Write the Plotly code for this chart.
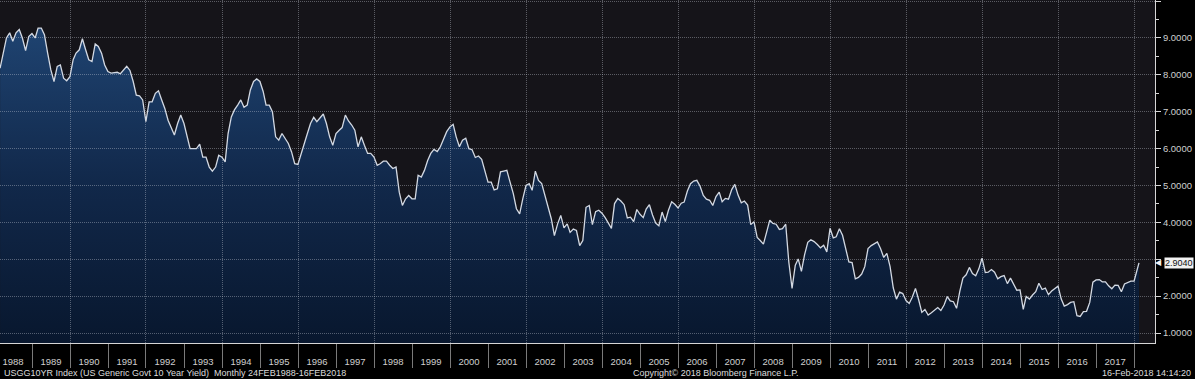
import pandas as pd
import plotly.graph_objects as go

# ---- data: month-end US 10Y generic yield (%), Feb 1988 .. 16 Feb 2018 ----
y1988 = [8.18, 8.63, 9.00, 9.14, 8.91, 9.14, 9.23, 9.00, 8.66, 9.04, 9.12]
y1989 = [9.00, 9.27, 9.27, 9.09, 8.59, 8.14, 7.82, 8.23, 8.27, 7.91, 7.84, 7.95]
y1990 = [8.41, 8.59, 8.68, 8.98, 8.68, 8.41, 8.36, 8.84, 8.77, 8.59, 8.27, 8.09]
y1991 = [8.05, 8.05, 8.07, 8.03, 8.14, 8.23, 8.12, 7.82, 7.45, 7.43, 7.32, 6.73]
y1992 = [7.27, 7.27, 7.50, 7.57, 7.32, 7.09, 6.77, 6.59, 6.37, 6.68, 6.91, 6.68]
y1993 = [6.32, 6.00, 6.00, 6.00, 6.12, 5.77, 5.77, 5.50, 5.39, 5.50, 5.82, 5.77]
y1994 = [5.64, 6.41, 6.86, 7.05, 7.18, 7.32, 7.12, 7.18, 7.59, 7.82, 7.89, 7.82]
y1995 = [7.55, 7.18, 7.18, 7.00, 6.32, 6.23, 6.41, 6.27, 6.14, 5.91, 5.59, 5.57]
y1996 = [5.87, 6.18, 6.41, 6.68, 6.85, 6.73, 6.85, 6.94, 6.68, 6.32, 6.09, 6.41]
y1997 = [6.50, 6.57, 6.91, 6.75, 6.64, 6.50, 6.05, 6.32, 6.09, 5.87, 5.87, 5.77]
y1998 = [5.55, 5.59, 5.66, 5.66, 5.55, 5.46, 5.50, 4.82, 4.46, 4.64, 4.73, 4.64]
y1999 = [4.64, 5.28, 5.23, 5.41, 5.68, 5.87, 5.98, 5.92, 6.05, 6.25, 6.46, 6.59]
y2000 = [6.66, 6.32, 6.05, 6.23, 6.28, 6.00, 5.97, 5.76, 5.80, 5.71, 5.37, 5.09]
y2001 = [5.09, 4.88, 4.91, 5.37, 5.39, 5.41, 5.09, 4.78, 4.37, 4.23, 4.64, 5.00]
y2002 = [5.05, 4.87, 5.39, 5.14, 5.05, 4.73, 4.41, 4.10, 3.64, 3.96, 4.19, 3.85]
y2003 = [3.96, 3.73, 3.82, 3.78, 3.37, 3.51, 4.41, 4.46, 3.94, 4.29, 4.33, 4.25]
y2004 = [4.13, 3.97, 3.84, 4.51, 4.65, 4.58, 4.48, 4.12, 4.14, 4.02, 4.35, 4.22]
y2005 = [4.13, 4.36, 4.48, 4.20, 3.98, 3.91, 4.28, 4.02, 4.33, 4.56, 4.49, 4.39]
y2006 = [4.52, 4.55, 4.85, 5.05, 5.12, 5.14, 4.98, 4.73, 4.63, 4.60, 4.46, 4.70]
y2007 = [4.82, 4.56, 4.65, 4.63, 4.89, 5.03, 4.74, 4.53, 4.58, 4.47, 3.94, 4.02]
y2008 = [3.59, 3.51, 3.41, 3.73, 4.06, 3.97, 3.95, 3.81, 3.83, 3.95, 2.92, 2.21]
y2009 = [2.84, 3.01, 2.67, 3.12, 3.46, 3.53, 3.48, 3.40, 3.31, 3.38, 3.20, 3.84]
y2010 = [3.58, 3.61, 3.83, 3.65, 3.29, 2.93, 2.91, 2.47, 2.51, 2.60, 2.80, 3.29]
y2011 = [3.37, 3.42, 3.47, 3.29, 3.05, 3.16, 2.80, 2.22, 1.92, 2.11, 2.07, 1.88]
y2012 = [1.80, 1.97, 2.21, 1.91, 1.56, 1.64, 1.49, 1.55, 1.63, 1.69, 1.61, 1.76]
y2013 = [1.99, 1.87, 1.85, 1.67, 2.13, 2.49, 2.58, 2.78, 2.61, 2.55, 2.74, 3.03]
y2014 = [2.64, 2.65, 2.72, 2.65, 2.47, 2.53, 2.56, 2.34, 2.49, 2.34, 2.16, 2.17]
y2015 = [1.64, 1.99, 1.92, 2.03, 2.12, 2.35, 2.18, 2.22, 2.04, 2.14, 2.21, 2.27]
y2016 = [1.92, 1.73, 1.77, 1.83, 1.85, 1.47, 1.45, 1.58, 1.59, 1.83, 2.38, 2.44]
y2017 = [2.45, 2.39, 2.39, 2.28, 2.20, 2.30, 2.29, 2.12, 2.33, 2.38, 2.41, 2.41]
y2018 = [2.71, 2.904]

yields = (y1988 + y1989 + y1990 + y1991 + y1992 + y1993 + y1994 + y1995 + y1996
          + y1997 + y1998 + y1999 + y2000 + y2001 + y2002 + y2003 + y2004 + y2005
          + y2006 + y2007 + y2008 + y2009 + y2010 + y2011 + y2012 + y2013 + y2014
          + y2015 + y2016 + y2017 + y2018)

month_ends = pd.date_range("1988-02-29", periods=360, freq=pd.offsets.MonthEnd())
dates = list(month_ends.strftime("%Y-%m-%d")) + ["2018-02-16"]

year_labels = [str(y) for y in range(1988, 2018)]
year_mid = [f"{y}-07-02" for y in range(1988, 2018)]
ytick_vals = [1, 2, 3, 4, 5, 6, 7, 8, 9, 10]
# the 3.0000 label is hidden behind the last-value tag, as in the reference
ytick_text = ["1.0000", "2.0000", "", "4.0000", "5.0000", "6.0000",
              "7.0000", "8.0000", "9.0000", ""]
last_value = yields[-1]
last_label = "2.9040"

footer_left = "USGG10YR Index (US Generic Govt 10 Year Yield)  Monthly 24FEB1988-16FEB2018"
footer_mid = "Copyright\u00a9 2018 Bloomberg Finance L.P."
footer_right = "16-Feb-2018 14:14:20"

# ---- styling ----
FONT = "Liberation Sans, Arial, sans-serif"
TXT = "#cfcfcf"
AXIS = "#d6d6d6"
GRID = "rgba(205,210,220,0.38)"
XRANGE = ["1988-02-28", "2018-07-20"]
YRANGE = [0.73, 10.03]

fig = go.Figure()
fig.add_trace(go.Scatter(
    x=dates, y=yields, mode="lines", fill="tozeroy",
    line=dict(color="#d3d9e3", width=1.3),
    fillgradient=dict(type="vertical", start=0.7, stop=9.4,
                      colorscale=[[0, "#08172e"], [0.5, "#11284a"], [1, "#1f4472"]]),
    hoverinfo="x+y", showlegend=False, xaxis="x", yaxis="y",
))
# empty trace for the grid subplot drawn on top of the fill
fig.add_trace(go.Scatter(x=[], y=[], xaxis="x2", yaxis="y2",
                         showlegend=False, hoverinfo="skip"))

fig.update_layout(
    width=1195, height=379,
    margin=dict(l=0, r=40, t=0, b=36),
    paper_bgcolor="#000000",
    plot_bgcolor="rgba(0,0,0,0)",
    font=dict(family=FONT, size=10, color=TXT),
    shapes=[dict(type="rect", xref="paper", yref="paper", x0=0, x1=1, y0=0, y1=1,
                 fillcolor="#151419", line=dict(width=0), layer="below")],
    xaxis=dict(
        type="date", range=XRANGE, domain=[0, 1], anchor="y",
        showgrid=False, zeroline=False,
        showline=True, linecolor=AXIS, linewidth=1,
        tickmode="linear", tick0="1989-01-01", dtick="M12",
        ticks="outside", ticklen=24, tickcolor="#7a7a7a", tickwidth=1,
        showticklabels=False,
    ),
    yaxis=dict(
        range=YRANGE, domain=[0, 1], anchor="x", side="right",
        showgrid=False, zeroline=False,
        showline=True, linecolor=AXIS, linewidth=1,
        tickmode="array", tickvals=ytick_vals, ticktext=ytick_text,
        ticks="outside", ticklen=5, tickcolor=AXIS,
        minor=dict(dtick=0.5, tick0=0, ticks="outside", ticklen=3, tickcolor=AXIS),
        tickfont=dict(family=FONT, size=9.5, color=TXT),
    ),
    xaxis2=dict(
        type="date", matches="x", domain=[0, 1], anchor="y2",
        showgrid=False, zeroline=False, showline=False,
        tickmode="array", tickvals=year_mid, ticktext=year_labels,
        ticks="outside", ticklen=10, tickcolor="rgba(0,0,0,0)",
        tickfont=dict(family=FONT, size=9.5, color=TXT),
        minor=dict(tickmode="linear", tick0="1990-01-01", dtick="M24",
                   showgrid=True, gridcolor=GRID, griddash="1px,1px", gridwidth=1),
    ),
    yaxis2=dict(
        matches="y", domain=[0, 1], anchor="x2", side="right",
        showgrid=True, gridcolor=GRID, griddash="1px,1px", gridwidth=1,
        zeroline=False, showline=False,
        tickmode="array", tickvals=ytick_vals,
        showticklabels=False, ticks="",
    ),
    annotations=[
        dict(text="\u25c0", x=1, xref="paper", y=last_value, yref="y",
             xanchor="right", yanchor="middle", xshift=8, showarrow=False,
             font=dict(family="DejaVu Sans", size=8, color="#f2f2f2"), borderpad=0),
        dict(text=last_label, x=1, xref="paper", y=last_value, yref="y",
             xanchor="left", yanchor="middle", xshift=9, showarrow=False,
             bgcolor="#f2f2f2", font=dict(family=FONT, size=9, color="#111111"),
             borderpad=0),
        dict(text=footer_left, x=0.0015, xref="paper", y=-0.0875, yref="paper",
             xanchor="left", yanchor="middle", showarrow=False,
             font=dict(family=FONT, size=9, color="#dcdcdc")),
        dict(text=footer_mid, x=0.62, xref="paper", y=-0.0875, yref="paper",
             xanchor="center", yanchor="middle", showarrow=False,
             font=dict(family=FONT, size=9, color="#dcdcdc")),
        dict(text=footer_right, x=1.033, xref="paper", y=-0.0875, yref="paper",
             xanchor="right", yanchor="middle", showarrow=False,
             font=dict(family=FONT, size=9, color="#dcdcdc")),
    ],
)

fig.write_html(
    "out.html",
    config={"displayModeBar": False},
    post_script="document.body.style.margin='0';document.body.style.overflow='hidden';",
)
